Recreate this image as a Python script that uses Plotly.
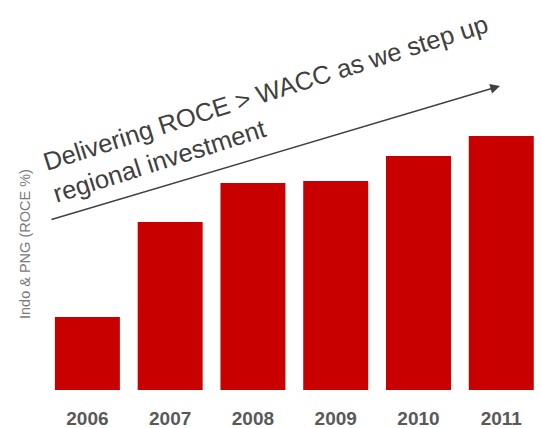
import plotly.graph_objects as go

# ROCE by year (Indo & PNG)
years = ["2006", "2007", "2008", "2009", "2010", "2011"]
roce = [7.3, 16.8, 20.7, 20.9, 23.4, 25.4]

W, H = 541, 428
ML, MR, MT, MB = 46, 0, 10, 38
PW, PH = W - ML - MR, H - MT - MB


def px_to_paper(x, y):
    return (x - ML) / PW, (H - MB - y) / PH


fig = go.Figure(
    go.Bar(
        x=years,
        y=roce,
        marker=dict(color="#C80000", line=dict(width=0)),
        hoverinfo="skip",
    )
)

fig.update_layout(
    width=W,
    height=H,
    margin=dict(l=ML, r=MR, t=MT, b=MB),
    paper_bgcolor="white",
    plot_bgcolor="white",
    bargap=0.215,
    showlegend=False,
    font=dict(family="Liberation Sans, Arial, sans-serif"),
)

fig.update_xaxes(
    type="category",
    range=[-0.5, 5.48],
    showgrid=False,
    zeroline=False,
    showline=False,
    ticks="",
    ticklabelstandoff=15,
    tickfont=dict(
        family="Liberation Sans, Arial",
        size=19,
        color="#595959",
        weight="bold",
    ),
)
fig.update_yaxes(
    range=[0, 38],
    showgrid=False,
    zeroline=False,
    showline=False,
    showticklabels=False,
    ticks="",
)

# y-axis caption
ax_x, ax_y = px_to_paper(25, 244)
fig.add_annotation(
    xref="paper", yref="paper", x=ax_x, y=ax_y,
    text="Indo & PNG (ROCE %)", textangle=-90, showarrow=False,
    font=dict(size=14.5, color="#7a7a7a"),
    xanchor="center", yanchor="middle",
)

# rising trend arrow
tip_x, tip_y = px_to_paper(500, 86)
fig.add_annotation(
    xref="paper", yref="paper", x=tip_x, y=tip_y,
    ax=50 - 500, ay=220 - 86, axref="pixel", ayref="pixel",
    text="", showarrow=True,
    arrowhead=2, arrowsize=1.3, arrowwidth=1.5, arrowcolor="#404040",
)

# message text along the arrow
msg_x, msg_y = px_to_paper(270, 108)
fig.add_annotation(
    xref="paper", yref="paper", x=msg_x, y=msg_y,
    text="Delivering ROCE > WACC as we step up<br>regional investment",
    textangle=-17.5, showarrow=False, align="left",
    font=dict(size=25.5, color="#404040"),
    xanchor="center", yanchor="middle",
)

fig.write_html("out.html")
